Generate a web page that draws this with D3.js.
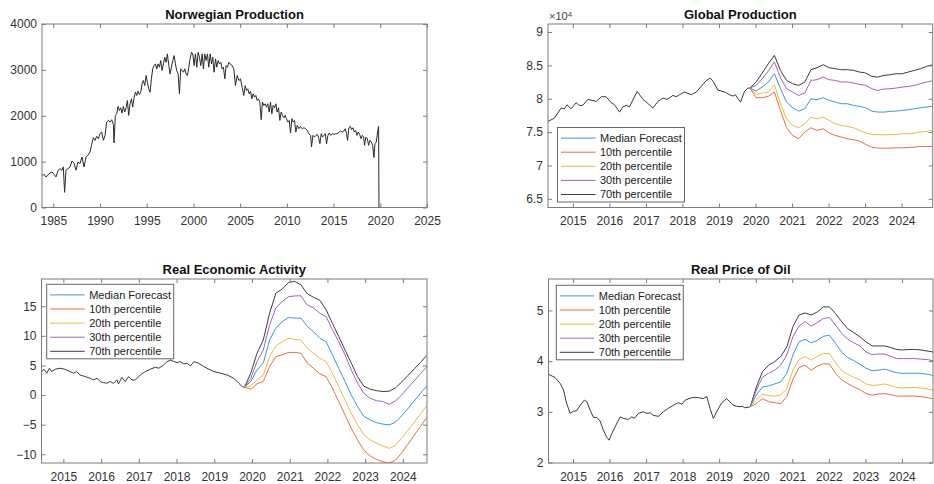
<!DOCTYPE html>
<html>
<head>
<meta charset="utf-8">
<script src="https://cdn.jsdelivr.net/npm/d3@7"></script>
<style>
  body { margin: 0; background: #fff; }
  svg { display: block; }
</style>
</head>
<body>
<svg id="chart" width="934" height="484"></svg>
<script>
// Datos (anos decimales)
const norProduction = [
  [1983.79,681],[1984.00,725],[1984.21,667],[1984.43,703],[1984.64,754],[1984.86,775],[1985.07,725],[1985.29,667],[1985.50,797],[1985.71,848],[1985.93,812],[1986.07,884],[1986.21,330],[1986.36,812],[1986.57,848],[1986.79,884],[1987.00,1014],[1987.21,971],[1987.43,812],[1987.64,993],[1987.86,957],[1988.07,1101],[1988.29,884],[1988.50,1101],[1988.71,1138],[1988.93,1210],[1989.11,1377],[1989.29,1522],[1989.46,1464],[1989.64,1551],[1989.82,1500],[1990.00,1609],[1990.18,1645],[1990.36,1464],[1990.54,1572],[1990.71,1862],[1990.89,1898],[1991.07,1862],[1991.25,1913],[1991.43,1812],[1991.50,1406],[1991.64,2007],[1991.79,2043],[1991.93,2203],[1992.07,2116],[1992.21,2174],[1992.36,2058],[1992.50,2203],[1992.64,2080],[1992.79,2174],[1992.93,2333],[1993.07,2007],[1993.21,2261],[1993.36,2369],[1993.50,2188],[1993.64,2391],[1993.79,2514],[1993.93,2442],[1994.07,2536],[1994.21,2464],[1994.36,2514],[1994.50,2696],[1994.64,2768],[1994.79,2659],[1994.93,2877],[1995.07,2732],[1995.21,2587],[1995.36,2514],[1995.50,2804],[1995.64,3022],[1995.79,3094],[1995.93,3130],[1996.07,3022],[1996.21,3130],[1996.36,3058],[1996.50,3203],[1996.64,2985],[1996.79,3130],[1996.93,3275],[1997.07,3166],[1997.21,3348],[1997.36,3094],[1997.50,2913],[1997.64,3058],[1997.79,3203],[1997.93,3311],[1998.07,3130],[1998.21,2985],[1998.36,2913],[1998.50,2478],[1998.64,3022],[1998.79,2985],[1998.93,2949],[1999.07,3022],[1999.21,2913],[1999.36,2877],[1999.50,3058],[1999.64,3239],[1999.79,3384],[1999.93,3348],[2000.07,3094],[2000.21,3348],[2000.36,3058],[2000.50,3384],[2000.64,3275],[2000.79,3094],[2000.93,3348],[2001.07,3022],[2001.21,3348],[2001.36,3203],[2001.50,3348],[2001.64,3058],[2001.79,3348],[2001.93,3130],[2002.07,3275],[2002.21,2949],[2002.36,3239],[2002.50,3058],[2002.64,3203],[2002.79,3130],[2002.93,3166],[2003.07,3022],[2003.21,3058],[2003.36,2804],[2003.50,3094],[2003.64,3058],[2003.79,3166],[2003.93,3130],
  [2004.14,3094],[2004.32,3022],[2004.50,2659],[2004.68,2877],[2004.86,2768],[2005.04,2804],[2005.21,2623],[2005.39,2442],[2005.54,2659],[2005.68,2551],[2005.82,2587],[2005.96,2478],[2006.11,2536],[2006.25,2369],[2006.39,2478],[2006.54,2406],[2006.68,2442],[2006.82,2333],[2006.96,2369],[2007.11,2297],[2007.25,1913],[2007.39,2297],[2007.54,2225],[2007.68,2261],[2007.82,2188],[2007.96,2261],[2008.11,2080],[2008.25,2297],[2008.39,2043],[2008.54,2225],[2008.68,2174],[2008.82,2261],[2008.96,2080],[2009.11,2174],[2009.25,1898],[2009.39,2080],[2009.54,2007],[2009.68,1957],[2009.82,2007],[2009.96,1935],[2010.11,1862],[2010.25,1898],[2010.39,1623],[2010.54,1935],[2010.68,1862],[2010.82,1898],[2010.96,1645],[2011.11,1790],[2011.29,1717],[2011.46,1768],[2011.64,1717],[2011.82,1739],[2012.00,1717],[2012.18,1681],[2012.36,1609],[2012.54,1572],[2012.64,1319],[2012.79,1572],[2012.96,1536],[2013.11,1572],[2013.25,1594],[2013.39,1536],[2013.54,1391],[2013.68,1609],[2013.82,1536],[2013.96,1572],[2014.11,1609],[2014.25,1391],[2014.39,1572],[2014.54,1623],[2014.68,1572],[2014.86,1609],[2015.04,1594],[2015.21,1609],[2015.39,1609],[2015.57,1638],[2015.75,1667],[2015.93,1645],[2016.11,1667],[2016.25,1717],[2016.39,1609],[2016.50,1464],[2016.64,1739],[2016.79,1768],[2016.93,1696],[2017.07,1739],[2017.21,1645],[2017.36,1681],[2017.50,1572],[2017.64,1645],[2017.79,1594],[2017.93,1500],[2018.07,1572],[2018.21,1536],[2018.32,1355],[2018.46,1536],[2018.61,1500],[2018.75,1355],[2018.89,1464],[2019.04,1427],[2019.18,1355],[2019.32,1090],[2019.43,1391],[2019.57,1427],[2019.71,1645],[2019.82,1768],[2019.86,0],[2025.00,0]
];

const globalHist = [
  [2014.32,76600],[2014.50,77100],[2014.68,78600],[2014.77,78500],[2014.84,79100],[2014.95,78500],[2015.09,79400],[2015.18,79000],[2015.27,79000],[2015.41,79900],[2015.64,79600],[2015.78,80300],[2015.91,80300],[2016.05,79400],[2016.14,79100],[2016.28,78000],[2016.37,78800],[2016.46,79000],[2016.55,78800],[2016.76,81100],[2016.92,79900],[2017.05,79300],[2017.19,78600],[2017.33,79600],[2017.47,80100],[2017.58,79900],[2017.74,80500],[2017.83,80300],[2017.92,80600],[2018.06,81000],[2018.24,80600],[2018.38,81000],[2018.52,81900],[2018.65,82700],[2018.76,83100],[2018.84,82600],[2018.97,81300],[2019.16,81000],[2019.29,80600],[2019.38,80400],[2019.45,80600],[2019.52,80000],[2019.59,79500],[2019.70,81100],[2019.79,81600],[2019.85,81600]
];
const globalMedian = [81600,81150,81750,82500,83750,81500,79500,78650,78150,78500,80000,79850,80150,79750,79500,79250,79250,79000,78850,78650,78150,78000,78000,78100,78150,78250,78350,78500,78650,78750,78900];
const globalP10 = [81600,80150,80150,80350,81000,78250,75650,74500,74000,75000,75650,75250,75500,74850,74500,74250,74000,73850,73650,73150,72750,72600,72600,72600,72650,72650,72700,72750,72850,72850,72850];
const globalP20 = [81600,80650,80850,81000,82100,79250,77000,76000,75650,76250,77250,77000,77250,76750,76250,76000,75850,75650,75250,74850,74650,74600,74600,74600,74650,74750,74750,74850,75000,75100,75250];
const globalP30 = [81600,82000,83000,84150,85500,83150,81500,81000,80500,80850,82750,82850,83250,82850,82750,82500,82500,82350,82150,82000,81500,81250,81450,81500,81600,81750,81850,82000,82250,82500,82700];
const globalP70 = [81600,82500,83850,85250,86500,84250,82750,82250,82000,82500,84350,84650,85100,84650,84500,84350,84350,84250,84000,83850,83350,83250,83500,83600,83750,83750,84000,84250,84500,84850,85100];

const reaHist = [
  [2014.42,3.96],[2014.49,4.36],[2014.56,3.68],[2014.63,4.53],[2014.69,3.96],[2014.78,4.36],[2014.91,4.53],[2015.04,4.36],[2015.18,3.96],[2015.27,3.68],[2015.35,3.96],[2015.44,3.40],[2015.58,3.12],[2015.71,2.84],[2015.80,2.56],[2015.89,2.84],[2015.98,2.28],[2016.06,2.11],[2016.15,2.00],[2016.24,2.28],[2016.33,2.00],[2016.42,2.56],[2016.46,1.88],[2016.55,3.00],[2016.64,2.28],[2016.73,3.12],[2016.82,2.56],[2016.91,2.56],[2017.04,3.40],[2017.17,3.96],[2017.30,4.36],[2017.44,4.70],[2017.53,4.53],[2017.66,5.10],[2017.75,5.65],[2017.84,5.93],[2017.93,5.65],[2018.01,5.50],[2018.10,5.65],[2018.19,5.26],[2018.28,5.37],[2018.37,4.92],[2018.46,5.65],[2018.59,5.37],[2018.72,4.81],[2018.86,4.36],[2018.99,3.96],[2019.17,3.68],[2019.34,3.40],[2019.52,2.84],[2019.65,2.00],[2019.74,1.43],[2019.80,1.30]
];
const reaMedian = [1.30,2.3,4.25,5.4,9.3,11.3,12.4,13.1,13.0,13.0,11.6,10.7,9.6,9.0,6.8,4.5,2.3,0.0,-1.95,-3.6,-4.2,-4.65,-4.9,-5.05,-4.6,-3.5,-2.3,-1.0,0.3,1.5];
const reaP10 = [1.30,0.98,1.9,2.3,4.8,6.5,6.8,7.2,7.2,7.06,5.4,4.5,3.6,3.1,1.15,-1.1,-3.35,-5.6,-7.6,-9.3,-10.3,-10.85,-11.25,-11.5,-11.0,-9.8,-8.3,-6.8,-5.3,-3.8];
const reaP20 = [1.30,1.55,2.55,3.4,6.5,8.3,9.0,9.6,9.4,9.3,7.9,7.06,6.2,5.65,3.7,1.4,-0.8,-3.1,-5.05,-6.7,-7.6,-8.1,-8.6,-9.0,-8.5,-7.3,-6.0,-4.6,-3.2,-1.8];
const reaP30 = [1.30,2.8,5.65,7.6,11.85,14.7,15.8,16.6,16.75,16.75,15.2,14.7,13.8,13.25,11.0,9.0,6.8,4.25,2.0,0.3,-0.55,-0.95,-1.1,-1.55,-1.0,0.0,1.2,2.4,3.6,4.8];
const reaP70 = [1.30,3.68,7.06,9.3,13.8,17.2,17.9,19.0,19.2,18.6,17.1,16.5,16.0,14.4,12.1,9.9,7.6,5.4,3.1,1.5,1.0,0.75,0.6,0.65,1.2,2.2,3.3,4.4,5.5,6.7];

const oilHist = [
  [2014.33,3.74],[2014.51,3.675],[2014.65,3.56],[2014.74,3.43],[2014.83,3.16],[2014.92,2.97],[2015.01,3.01],[2015.10,3.02],[2015.20,3.13],[2015.31,3.23],[2015.38,3.20],[2015.47,3.03],[2015.56,2.89],[2015.65,2.89],[2015.74,2.82],[2015.83,2.64],[2015.92,2.50],[2015.99,2.44],[2016.06,2.57],[2016.15,2.70],[2016.29,2.90],[2016.38,2.87],[2016.52,2.85],[2016.61,2.90],[2016.68,2.87],[2016.79,2.97],[2016.93,3.00],[2017.02,2.97],[2017.11,2.98],[2017.20,2.93],[2017.34,2.91],[2017.47,3.00],[2017.61,3.07],[2017.75,3.13],[2017.88,3.18],[2017.98,3.15],[2018.07,3.23],[2018.25,3.28],[2018.43,3.28],[2018.56,3.26],[2018.66,3.30],[2018.75,3.07],[2018.84,2.87],[2018.93,3.00],[2019.07,3.18],[2019.20,3.26],[2019.29,3.20],[2019.38,3.13],[2019.47,3.11],[2019.57,3.10],[2019.63,3.11],[2019.70,3.08],[2019.79,3.09],[2019.85,3.10]
];
const oilMedian = [3.10,3.33,3.49,3.51,3.55,3.59,3.76,4.12,4.38,4.43,4.36,4.41,4.49,4.51,4.35,4.18,4.07,4.01,3.94,3.86,3.81,3.82,3.84,3.81,3.77,3.76,3.76,3.76,3.76,3.74,3.72];
const oilP10 = [3.10,3.16,3.26,3.20,3.18,3.16,3.30,3.64,3.87,3.92,3.82,3.90,3.95,3.94,3.76,3.63,3.56,3.49,3.44,3.36,3.33,3.35,3.36,3.34,3.31,3.31,3.31,3.31,3.30,3.28,3.26];
const oilP20 = [3.10,3.23,3.35,3.32,3.31,3.33,3.46,3.82,4.03,4.09,4.02,4.09,4.15,4.15,3.97,3.81,3.74,3.68,3.63,3.55,3.52,3.53,3.55,3.52,3.48,3.47,3.48,3.48,3.47,3.45,3.43];
const oilP30 = [3.10,3.43,3.68,3.76,3.82,3.92,4.12,4.48,4.69,4.78,4.69,4.76,4.84,4.86,4.71,4.55,4.43,4.36,4.30,4.18,4.13,4.14,4.14,4.10,4.05,4.05,4.05,4.05,4.04,4.03,4.01];
const oilP70 = [3.10,3.49,3.79,3.92,3.99,4.09,4.28,4.68,4.91,4.95,4.91,4.97,5.07,5.07,4.94,4.78,4.64,4.56,4.48,4.38,4.30,4.30,4.30,4.27,4.23,4.22,4.23,4.23,4.22,4.20,4.18];

// Fechas de la prevision (cada dos meses)
const fcYears = d3.range(31).map(k => 2019.85 + k / 6);
const reaFcYears = d3.range(30).map(k => 2019.80 + k / 6);

const legendLabels = ["Median Forecast", "10th percentile", "20th percentile", "30th percentile", "70th percentile"];
const colores = ["#3d96d8", "#e4713f", "#f0b93f", "#a064b8", "#3c3c3c"];
const colorHist = "#3a3a3a";

const FONT = '"Liberation Sans", Arial, Helvetica, sans-serif';
const svg = d3.select("#chart");
svg.append("rect").attr("width", 934).attr("height", 484).attr("fill", "#fff");

const zip = (years, vals) => vals.map((v, i) => [years[i], v]);

function forecastLines(hist, years, series) {
  const lines = [{ data: hist, color: colorHist }];
  // orden de dibujo
  [4, 3, 0, 2, 1].forEach(i => lines.push({ data: zip(years, series[i]), color: colores[i] }));
  return lines;
}

let clipId = 0;
function dibujarPanel(p) {
  const x = d3.scaleLinear().domain(p.xDomain).range([p.left, p.right]);
  const y = d3.scaleLinear().domain(p.yDomain).range([p.bottom, p.top]);
  const g = svg.append("g");

  const id = "clip" + (clipId++);
  g.append("clipPath").attr("id", id).append("rect")
    .attr("x", p.left).attr("y", p.top)
    .attr("width", p.right - p.left).attr("height", p.bottom - p.top);

  const line = d3.line().x(d => x(d[0])).y(d => y(d[1]));
  const lg = g.append("g").attr("clip-path", `url(#${id})`);
  p.lines.forEach(l => {
    lg.append("path").datum(l.data)
      .attr("d", line)
      .attr("fill", "none")
      .attr("stroke", l.color)
      .attr("stroke-width", 1)
      .attr("stroke-linejoin", "round");
  });

  // Ejes con ticks hacia dentro
  const estilo = sel => {
    sel.select(".domain").remove();
    sel.selectAll(".tick line").attr("stroke", "#7a7a7a");
    sel.selectAll("text").attr("fill", "#333").attr("font-size", 12).attr("font-family", FONT);
  };
  g.append("g").attr("transform", `translate(0,${p.bottom})`)
    .call(d3.axisBottom(x).tickValues(p.xTicks).tickFormat(d3.format("d")).tickSizeInner(-4).tickSizeOuter(0).tickPadding(9))
    .call(estilo);
  g.append("g").attr("transform", `translate(0,${p.top})`)
    .call(d3.axisTop(x).tickValues(p.xTicks).tickFormat("").tickSizeInner(-4).tickSizeOuter(0))
    .call(estilo);
  g.append("g").attr("transform", `translate(${p.left},0)`)
    .call(d3.axisLeft(y).tickValues(p.yTicks).tickFormat(p.yFormat).tickSizeInner(-4).tickSizeOuter(0).tickPadding(5))
    .call(estilo);
  g.append("g").attr("transform", `translate(${p.right},0)`)
    .call(d3.axisRight(y).tickValues(p.yTicks).tickFormat("").tickSizeInner(-4).tickSizeOuter(0))
    .call(estilo);

  g.append("rect")
    .attr("x", p.left).attr("y", p.top)
    .attr("width", p.right - p.left).attr("height", p.bottom - p.top)
    .attr("fill", "none").attr("stroke", "#7a7a7a").attr("stroke-width", 1);

  g.append("text")
    .attr("x", (p.left + p.right) / 2).attr("y", p.top - 5.5)
    .attr("text-anchor", "middle")
    .attr("font-family", FONT).attr("font-size", 13).attr("font-weight", "bold")
    .attr("fill", "#111")
    .text(p.title);

  if (p.exponent) {
    const t = g.append("text")
      .attr("x", p.left + 1).attr("y", p.top - 4)
      .attr("font-family", FONT).attr("font-size", 11).attr("fill", "#444");
    t.append("tspan").text("×10");
    t.append("tspan").attr("font-size", 8).attr("dy", -3).text(p.exponent);
  }

  if (p.legend) {
    const lx = p.left + p.legend.dx;
    const ly = p.legend.fromBottom ? p.bottom - p.legend.dy - 74.5 : p.top + p.legend.dy;
    const leg = g.append("g").attr("transform", `translate(${lx},${ly})`);
    leg.append("rect").attr("width", 127).attr("height", 74.5)
      .attr("fill", "#fff").attr("stroke", "#666").attr("stroke-width", 1);
    legendLabels.forEach((lab, i) => {
      const cy = 10.6 + i * 14.1;
      leg.append("line").attr("x1", 3.5).attr("x2", 38).attr("y1", cy).attr("y2", cy)
        .attr("stroke", colores[i]).attr("stroke-width", 1);
      leg.append("text").attr("x", 42.5).attr("y", cy).attr("dy", "0.35em")
        .attr("font-family", FONT).attr("font-size", 11).attr("fill", "#222")
        .text(lab);
    });
  }
}

const yearTicks = d3.range(2015, 2025);

dibujarPanel({
  left: 42, right: 427, top: 24, bottom: 207.5,
  xDomain: [1983.79, 2025], yDomain: [0, 4000],
  xTicks: d3.range(1985, 2026, 5), yTicks: [0, 1000, 2000, 3000, 4000],
  yFormat: d3.format("d"),
  title: "Norwegian Production",
  lines: [{ data: norProduction, color: "#2a2a2a" }]
});

dibujarPanel({
  left: 548, right: 932.7, top: 24, bottom: 207.5,
  xDomain: [2014.32, 2024.85], yDomain: [63700, 91200],
  xTicks: yearTicks, yTicks: [65000, 70000, 75000, 80000, 85000, 90000],
  yFormat: v => String(+(v / 1e4).toFixed(1)),
  title: "Global Production", exponent: "4",
  lines: forecastLines(globalHist, fcYears, [globalMedian, globalP10, globalP20, globalP30, globalP70]),
  legend: { dx: 9.5, dy: 5.5, fromBottom: true }
});

dibujarPanel({
  left: 41.5, right: 427, top: 279, bottom: 463,
  xDomain: [2014.42, 2024.64], yDomain: [-11.47, 19.6],
  xTicks: yearTicks, yTicks: [-10, -5, 0, 5, 10, 15],
  yFormat: d3.format("d"),
  title: "Real Economic Activity",
  lines: forecastLines(reaHist, reaFcYears, [reaMedian, reaP10, reaP20, reaP30, reaP70]),
  legend: { dx: 5.2, dy: 5.3 }
});

dibujarPanel({
  left: 548.5, right: 933, top: 279, bottom: 463,
  xDomain: [2014.33, 2024.85], yDomain: [1.99, 5.62],
  xTicks: yearTicks, yTicks: [2, 3, 4, 5],
  yFormat: d3.format("d"),
  title: "Real Price of Oil",
  lines: forecastLines(oilHist, fcYears, [oilMedian, oilP10, oilP20, oilP30, oilP70]),
  legend: { dx: 7.8, dy: 6.3 }
});
</script>
</body>
</html>
